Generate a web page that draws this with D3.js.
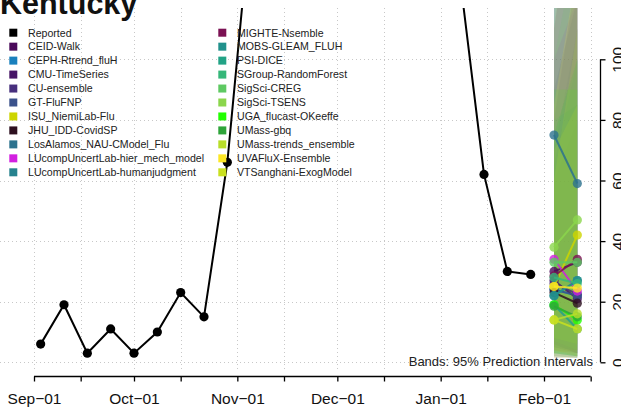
<!DOCTYPE html>
<html>
<head>
<meta charset="utf-8">
<script src="https://cdn.jsdelivr.net/npm/d3@7"></script>
<style>
  html, body { margin: 0; padding: 0; background: #fff; }
  svg { display: block; }
  text { font-family: "Liberation Sans", Arial, Helvetica, sans-serif; }
</style>
</head>
<body>
<svg id="chart" width="621" height="410"></svg>
<script>
// ---------------- DATA ----------------
const title = "Kentucky";
const reportedDates = ["2022-09-03","2022-09-10","2022-09-17","2022-09-24","2022-10-01","2022-10-08",
  "2022-10-15","2022-10-22","2022-10-29","2022-11-05","2022-11-12","2022-11-19","2022-11-26",
  "2022-12-03","2022-12-10","2022-12-17","2022-12-24","2022-12-31","2023-01-07","2023-01-14",
  "2023-01-21","2023-01-28"];
const reportedValues = [6, 19, 3, 11, 3, 10, 23, 15, 66, 147, 260, 390, 520, 480, 360, 270, 230, 180, 125, 62, 30, 29];

const forecastDates = ["2023-02-04", "2023-02-11"];
const models = ["CEID-Walk","CEPH-Rtrend_fluH","CMU-TimeSeries","CU-ensemble","GT-FluFNP",
  "ISU_NiemiLab-Flu","JHU_IDD-CovidSP","LosAlamos_NAU-CModel_Flu","LUcompUncertLab-hier_mech_model",
  "LUcompUncertLab-humanjudgment","MIGHTE-Nsemble","MOBS-GLEAM_FLUH","PSI-DICE","SGroup-RandomForest",
  "SigSci-CREG","SigSci-TSENS","UGA_flucast-OKeeffe","UMass-gbq","UMass-trends_ensemble",
  "UVAFluX-Ensemble","VTSanghani-ExogModel"];
const modelColors = ["#4a0a5a","#1a80bd","#471466","#472f7d","#3b528b",
  "#cdd500","#2d1020","#2c728e","#d21fe0",
  "#26828e","#7b1153","#21918c","#22a386","#35b779",
  "#5ec962","#8bd64c","#22ff00","#2ea43a","#b8de29",
  "#fde725","#c9e020"];
// medians at the two horizons
const medianH1 = [30, 24, 27, 26, 24, 25, 23, 75, 34, 22, 28.5, 22, 19, 28, 33, 38, 19, 18.5, 14, 25, 14];
const medianH2 = [33, 22, 21, 22.5, 22, 42, 19.5, 59, 23.5, 27, 34, 27, 11, 26, 33, 47, 14, 15, 16, 24.5, 11];
// 95% prediction interval bounds
const lowerH1 = [5, 3, 6, 4, 2, 3, 1.5, 35, 6, 5, 4, 3, 2, 6, 7, 8, 3, 3, 2, 4, 1.5];
const lowerH2 = [3, 2, 3, 2, 1.5, 4, 1.5, 20, 3, 4, 3, 2, 1.5, 3, 4, 6, 2, 2, 1.5, 2, 1.5];
const upperH1 = [80, 70, 60, 90, 120, 110, 140, 160, 100, 65, 110, 130, 80, 75, 100, 130, 90, 75, 60, 85, 70];
const upperH2 = [130, 110, 80, 120, 170, 200, 180, 150, 120, 100, 160, 200, 85, 100, 140, 220, 90, 100, 110, 130, 85];

const xTickDates = ["2022-09-01","2022-09-15","2022-10-01","2022-10-15","2022-11-01","2022-11-15",
  "2022-12-01","2022-12-15","2023-01-01","2023-01-15","2023-02-01","2023-02-15"];
const xTickLabels = ["Sep\u221201","","Oct\u221201","","Nov\u221201","","Dec\u221201","","Jan\u221201","","Feb\u221201",""];
const yTicks = [0, 20, 40, 60, 80, 100];
const bandNote = "Bands: 95% Prediction Intervals";

// ---------------- DRAW ----------------
const parse = d3.utcParse("%Y-%m-%d");
const svg = d3.select("#chart");
svg.append("rect").attr("width", 621).attr("height", 410).attr("fill", "#fff");

const x = d3.scaleUtc().domain([parse("2022-09-01"), parse("2023-02-01")]).range([34, 544]);
const y = d3.scaleLinear().domain([0, 100]).range([362.3, 59.3]);

const plot = { left: 0, right: 598, top: 8, bottom: 370 };
svg.append("defs").append("clipPath").attr("id", "clip")
  .append("rect").attr("x", plot.left).attr("y", plot.top)
  .attr("width", plot.right - plot.left).attr("height", plot.bottom - plot.top);

// grid
const grid = svg.append("g").attr("stroke", "#c8c8c8").attr("stroke-width", 1)
  .attr("stroke-dasharray", "1,3");
xTickDates.forEach(d => {
  const xx = Math.round(x(parse(d))) + 0.5;
  grid.append("line").attr("x1", xx).attr("x2", xx).attr("y1", plot.top).attr("y2", plot.bottom);
});
yTicks.forEach(v => {
  const yy = Math.round(y(v)) + 0.5;
  grid.append("line").attr("x1", plot.left).attr("x2", plot.right).attr("y1", yy).attr("y2", yy);
});

const g = svg.append("g").attr("clip-path", "url(#clip)");

// bands
const fd = forecastDates.map(parse);
models.forEach((m, i) => {
  const pts = [[x(fd[0]), y(lowerH1[i])], [x(fd[1]), y(lowerH2[i])],
               [x(fd[1]), y(upperH2[i])], [x(fd[0]), y(upperH1[i])]];
  g.append("path").attr("d", "M" + pts.map(p => p.join(",")).join("L") + "Z")
    .attr("fill", modelColors[i]).attr("fill-opacity", 0.13).attr("stroke", "none");
});

// reported
const rep = reportedDates.map((d, i) => ({ date: parse(d), value: reportedValues[i] }));
const line = d3.line().x(d => x(d.date)).y(d => y(d.value));
g.append("path").datum(rep).attr("d", line).attr("fill", "none")
  .attr("stroke", "#000").attr("stroke-width", 2);
g.selectAll("circle.rep").data(rep).enter().append("circle").attr("class", "rep")
  .attr("cx", d => x(d.date)).attr("cy", d => y(d.value)).attr("r", 4.6).attr("fill", "#000");

// model medians
models.forEach((m, i) => {
  const pts = [{ date: fd[0], value: medianH1[i] }, { date: fd[1], value: medianH2[i] }];
  g.append("path").datum(pts).attr("d", line).attr("fill", "none")
    .attr("stroke", modelColors[i]).attr("stroke-width", 2).attr("stroke-opacity", 0.85);
  pts.forEach(p => {
    g.append("circle").attr("cx", x(p.date)).attr("cy", y(p.value)).attr("r", 4.6)
      .attr("fill", modelColors[i]).attr("fill-opacity", 0.8);
  });
});

// x axis
const xAxis = d3.axisBottom(x).tickValues(xTickDates.map(parse))
  .tickFormat((d, i) => xTickLabels[i]).tickSize(5).tickSizeOuter(0);
const gx = svg.append("g").attr("transform", "translate(0,376.5)").call(xAxis);
gx.select(".domain").remove();
gx.append("line").attr("x1", x(parse(xTickDates[0]))).attr("x2", x(parse(xTickDates[xTickDates.length - 1])))
  .attr("stroke", "#000").attr("stroke-width", 1.3);
gx.selectAll(".tick line").attr("stroke", "#000").attr("stroke-width", 1.3);
gx.selectAll(".tick text").attr("font-size", "15.5px").attr("fill", "#111").attr("dy", 0).attr("y", 27.5)
  .attr("font-family", "'Liberation Sans', Arial, sans-serif");

// y axis (labels run off the right edge as in the reference)
const yAxis = d3.axisRight(y).tickValues(yTicks).tickSize(5).tickSizeOuter(0);
const gy = svg.append("g").attr("transform", "translate(600.5,0)").call(yAxis);
gy.select(".domain").attr("stroke", "#000").attr("stroke-width", 1.3).attr("d", `M0,${y(0)}V${y(100)}`);
gy.selectAll(".tick line").attr("stroke", "#000").attr("stroke-width", 1.3);
gy.selectAll(".tick text").attr("font-size", "15.5px").attr("fill", "#111")
  .attr("x", 0).attr("dy", 0).attr("text-anchor", "middle")
  .attr("transform", "translate(22.5,0) rotate(-90)")
  .attr("font-family", "'Liberation Sans', Arial, sans-serif");

// band note
svg.append("text").attr("x", 593).attr("y", 365.5).attr("text-anchor", "end")
  .attr("font-size", "13px").attr("fill", "#222").text(bandNote);

// title
svg.append("text").attr("x", 0).attr("y", 14).attr("font-size", "30.5px").attr("font-weight", "bold")
  .attr("fill", "#111").text(title);

// legend
const legendNames = ["Reported"].concat(models);
const legendColors = ["#000"].concat(modelColors);
const perCol = 11;
legendNames.forEach((name, i) => {
  const col = Math.floor(i / perCol), row = i % perCol;
  const lx = col === 0 ? 9.3 : 218.3;
  const ly = 32.7 + row * 13.96;
  svg.append("rect").attr("x", lx).attr("y", ly - 4).attr("width", 8).attr("height", 8)
    .attr("fill", legendColors[i]);
  svg.append("text").attr("x", lx + 18.7).attr("y", ly + 3.8).attr("font-size", "10.6px")
    .attr("fill", "#222").text(name);
});
</script>
</body>
</html>
